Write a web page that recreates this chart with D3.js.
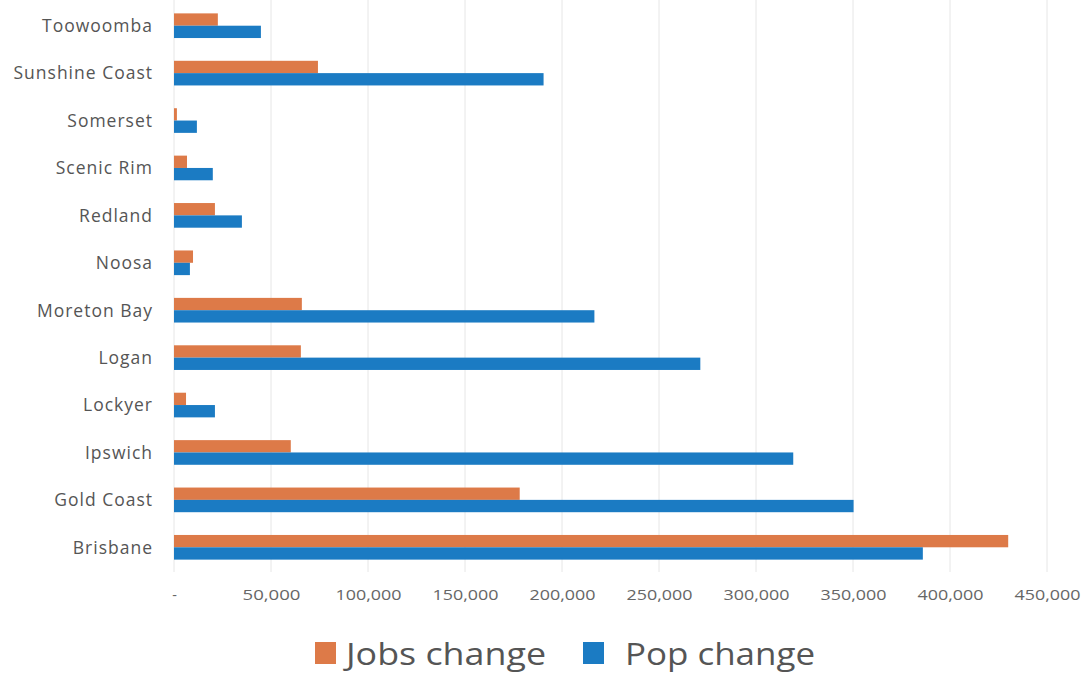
<!DOCTYPE html>
<html><head><meta charset="utf-8">
<script src="https://cdn.jsdelivr.net/npm/d3@7"></script>
<style>body{margin:0;background:#fff;} svg{display:block;}</style>
</head><body>
<svg id="c" width="1089" height="675"></svg>
<script>
const categories = ["Toowoomba","Sunshine Coast","Somerset","Scenic Rim","Redland","Noosa","Moreton Bay","Logan","Lockyer","Ipswich","Gold Coast","Brisbane"];
const jobsChange = [22600, 74200, 1500, 6700, 21100, 9800, 65900, 65400, 6200, 60200, 178200, 430000];
const popChange  = [44800, 190500, 11800, 20000, 35000, 8200, 216700, 271300, 21100, 319200, 350300, 386000];
const seriesNames = ["Jobs change","Pop change"];
const xTicks = [0,50000,100000,150000,200000,250000,300000,350000,400000,450000];

const colors = ["#DD7A48","#1B7BC3"];
const svg = d3.select("#c");
const font = "'Open Sans', sans-serif";
const x = d3.scaleLinear().domain([0,450000]).range([174,1047]);
const y = d3.scaleBand().domain(categories).range([2,571]).paddingInner(0.48).paddingOuter(0.24);
const sub = d3.scaleBand().domain(seriesNames).range([0,y.bandwidth()]);

// gridlines
svg.append("g").selectAll("line").data(xTicks).join("line")
  .attr("x1",d=>x(d)).attr("x2",d=>x(d)).attr("y1",0).attr("y2",572)
  .attr("stroke","#e6e6e6").attr("stroke-width",1);

const data = categories.map((c,i)=>({c, v:[jobsChange[i],popChange[i]]}));
const g = svg.append("g").selectAll("g").data(data).join("g")
  .attr("transform",d=>`translate(0,${y(d.c)})`);
g.selectAll("rect").data(d=>d.v.map((v,k)=>({v,k}))).join("rect")
  .attr("x",x(0)).attr("y",d=>sub(seriesNames[d.k]))
  .attr("width",d=>x(d.v)-x(0)).attr("height",sub.bandwidth())
  .attr("fill",d=>colors[d.k]);

// y axis labels
const ya = svg.append("g").attr("transform","translate(162,0)")
  .call(d3.axisLeft(y).tickSize(0).tickPadding(9));
ya.select(".domain").remove();
ya.selectAll("text").attr("font-family",font).attr("font-size",17.5).attr("fill","#555")
  .attr("letter-spacing","1px").attr("dy","0.36em");

// x axis labels
const xa = svg.append("g").attr("transform","translate(0,590)")
  .call(d3.axisBottom(x).tickValues(xTicks).tickSize(0).tickPadding(0)
    .tickFormat(d=>d===0?"-":d3.format(",")(d)));
xa.select(".domain").remove();
xa.selectAll("text").attr("font-family",font).attr("font-size",14.5).attr("fill","#666").attr("dy","0.71em")
  .attr("textLength",d=>d===0?null:(d<100000?58:66)).attr("lengthAdjust","spacingAndGlyphs");

// legend
const leg = [{name:seriesNames[0],x:315,tx:346,w:200},{name:seriesNames[1],x:583,tx:625,w:190}];
const lg = svg.append("g");
leg.forEach((l,i)=>{
  lg.append("rect").attr("x",l.x).attr("y",642).attr("width",21).attr("height",22).attr("fill",colors[i]);
  lg.append("text").attr("x",l.tx).attr("y",665).text(l.name)
    .attr("font-family",font).attr("font-size",31).attr("fill","#555")
    .attr("textLength",l.w).attr("lengthAdjust","spacingAndGlyphs");
});
</script>
</body></html>
